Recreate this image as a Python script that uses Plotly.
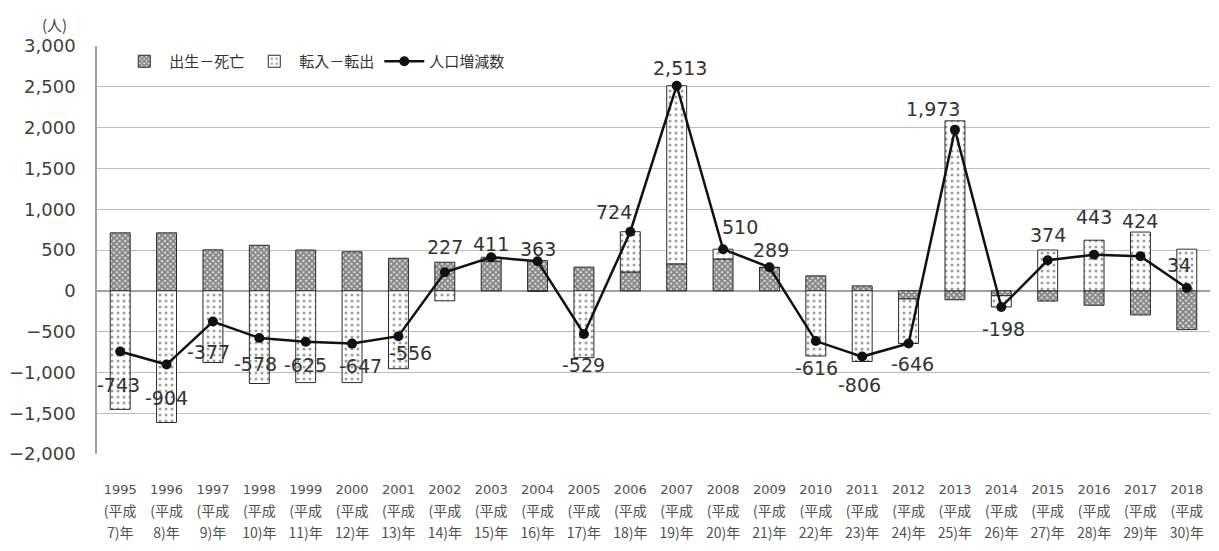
import plotly.graph_objects as go

years = list(range(1995, 2019))
heisei = list(range(7, 31))
natural = [710, 710, 502, 558, 500, 478, 399, 350, 365, 370, 290, 231, 330, 390, 285, 183, 60, -100, -110, -60, -126, -177, -296, -476]
social = [-1453, -1614, -879, -1136, -1125, -1125, -955, -123, 46, -7, -819, 493, 2183, 120, 4, -799, -866, -546, 2083, -138, 500, 620, 720, 510]
net = [-743, -904, -377, -578, -625, -647, -556, 227, 411, 363, -529, 724, 2513, 510, 289, -616, -806, -646, 1973, -198, 374, 443, 424, 34]

year_labels = [str(y) for y in years]
heisei_line1 = ["(平成" for _ in years]
heisei_line2 = [f"{h})年" for h in heisei]

# label placement offsets in pixels (style only): (dx, dy-down)
label_offsets = [(-2, 34), (0, 33), (-4, 30), (-4, 26), (0, 23), (8, 22), (12, 17),
                 (0, -25), (0, -13), (0, -12), (0, 31), (-16, -20), (3, -18), (17, -22),
                 (2, -17), (1, 27), (-3, 28), (4, 20), (-22, -21), (2, 22), (0, -25),
                 (0, -38), (0, -35), (-8, -23)]

xs = list(range(len(years)))
FONT = "DejaVu Sans, Noto Sans CJK JP, sans-serif"
JPFONT = "Noto Sans CJK JP, DejaVu Sans, sans-serif"

fig = go.Figure()
fig.add_trace(go.Bar(
    x=xs, y=natural, name="出生－死亡", width=0.43,
    marker=dict(color="white", line=dict(color="#2a2a2a", width=1),
                pattern=dict(shape="x", size=4, solidity=0.75, fgcolor="#262626", bgcolor="#e8e8e8")),
))
fig.add_trace(go.Bar(
    x=xs, y=social, name="転入－転出", width=0.43,
    marker=dict(color="white", line=dict(color="#2a2a2a", width=1),
                pattern=dict(shape=".", size=6, solidity=0.2, fgcolor="#3c3c3c", bgcolor="white")),
))
fig.add_trace(go.Scatter(
    x=xs, y=net, name="人口増減数", mode="lines+markers",
    line=dict(color="#111111", width=2.5),
    marker=dict(color="#111111", size=10),
))
# invisible traces for the extra label rows
for ax in ("x2", "x3"):
    fig.add_trace(go.Scatter(x=xs, y=[None] * len(xs), xaxis=ax, showlegend=False,
                             hoverinfo="skip", mode="markers"))

annotations = []
for xi, v, (dx, dy) in zip(xs, net, label_offsets):
    annotations.append(dict(x=xi, y=v, xref="x", yref="y", text=f"{v:,}", showarrow=False,
                            xshift=dx, yshift=-dy,
                            font=dict(family=FONT, size=19, color="#333333")))
annotations.append(dict(text="(人)", xref="paper", yref="paper", x=-0.038, y=1.052,
                        xanchor="center", yanchor="middle",
                        showarrow=False, font=dict(family=JPFONT, size=15, color="#404040")))

xcommon = dict(range=[-0.5, len(years) - 0.5], tickmode="array", tickvals=xs,
               showgrid=False, zeroline=False, ticks="", showline=False)

fig.update_layout(
    width=1219, height=551,
    margin=dict(l=95, r=9, t=46, b=87),
    paper_bgcolor="white", plot_bgcolor="white",
    barmode="relative",
    font=dict(family=FONT, color="#404040"),
    xaxis=dict(**xcommon, ticktext=year_labels, ticklabelstandoff=26,
               tickfont=dict(family=FONT, size=13, color="#505050")),
    xaxis2=dict(**xcommon, ticktext=heisei_line1, ticklabelstandoff=47,
                overlaying="x", anchor="y", side="bottom", matches="x",
                tickfont=dict(family=JPFONT, size=14, color="#505050")),
    xaxis3=dict(**xcommon, ticktext=heisei_line2, ticklabelstandoff=69,
                overlaying="x", anchor="y", side="bottom", matches="x",
                tickfont=dict(family=JPFONT, size=14, color="#505050")),
    yaxis=dict(range=[-2000, 3000], dtick=500, tickformat=",",
               showgrid=True, gridcolor="#bdbdbd", gridwidth=1,
               zeroline=True, zerolinecolor="#a0a0a0", zerolinewidth=1.5,
               showline=True, linecolor="#a0a0a0", linewidth=1.5,
               ticklabelstandoff=16,
               tickfont=dict(family=FONT, size=18, color="#404040")),
    legend=dict(orientation="h", x=0.02, y=0.962, xanchor="left", yanchor="middle",
                bgcolor="white", font=dict(family=JPFONT, size=15, color="#333333"),
                traceorder="normal", itemwidth=40),
    showlegend=True,
    annotations=annotations,
)

fig.write_html("out.html")
